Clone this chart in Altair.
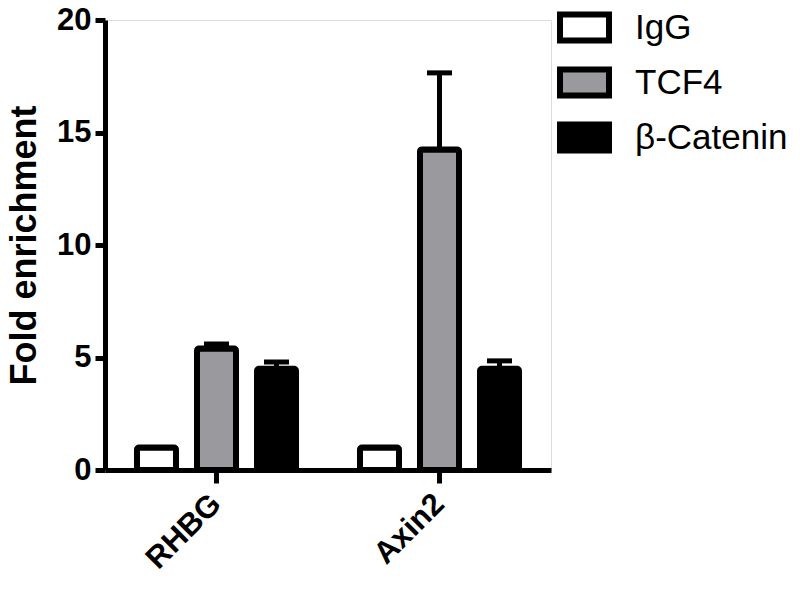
import altair as alt
import pandas as pd

genes = ["RHBG", "Axin2"]
groups = ["IgG", "TCF4", "β-Catenin"]
igg = [1.0, 1.0]
tcf4 = [5.4, 14.25]
bcat = [4.5, 4.5]
igg_err = [0.0, 0.0]
tcf4_err = [0.2, 3.4]
bcat_err = [0.3, 0.35]
fills = ["#ffffff", "#9a9a9e", "#000000"]
y_ticks = [0, 5, 10, 15, 20]

rows = []
for series, vals, errs in zip(groups, [igg, tcf4, bcat], [igg_err, tcf4_err, bcat_err]):
    for g, v, e in zip(genes, vals, errs):
        rows.append({"gene": g, "group": series, "value": v, "top": v + e, "err": e})
df = pd.DataFrame(rows)

FONT = "Liberation Sans"

x = alt.X(
    "gene:N",
    sort=genes,
    scale=alt.Scale(paddingInner=0, paddingOuter=0),
    axis=alt.Axis(
        title=None,
        labelAngle=-45,
        labelAlign="right",
        labelBaseline="middle",
        labelFontSize=31,
        labelFontWeight="bold",
        labelFont=FONT,
        labelColor="black",
        tickSize=13,
        tickWidth=5,
        tickColor="black",
        domainWidth=5,
        domainColor="black",
        labelPadding=16,
    ),
)
xo = alt.XOffset(
    "group:N", sort=groups, scale=alt.Scale(paddingInner=0.35, paddingOuter=0.533)
)
y = alt.Y(
    "value:Q",
    scale=alt.Scale(domain=[0, 20], nice=False),
    axis=alt.Axis(
        values=y_ticks,
        title="Fold enrichment",
        titleFontSize=36,
        titleFontWeight="bold",
        titleFont=FONT,
        titleColor="black",
        titlePadding=13,
        labelFontSize=31,
        labelFontWeight="bold",
        labelFont=FONT,
        labelColor="black",
        labelPadding=4,
        tickSize=10,
        tickWidth=5,
        tickColor="black",
        domainWidth=5,
        domainColor="black",
        grid=False,
    ),
)

err_df = df[df["err"] > 0]

stems = alt.Chart(err_df).mark_rule(strokeWidth=5, color="black").encode(
    x=x, xOffset=xo, y=y, y2="top:Q"
)
caps = alt.Chart(err_df).mark_tick(color="black", thickness=5, size=25, opacity=1).encode(
    x=x, xOffset=xo, y=alt.Y("top:Q")
)
bars = alt.Chart(df).mark_bar(
    stroke="black", strokeWidth=6, cornerRadius=2, strokeJoin="round", opacity=1
).encode(
    x=x,
    xOffset=xo,
    y=y,
    fill=alt.Fill(
        "group:N",
        sort=groups,
        scale=alt.Scale(domain=groups, range=fills),
        legend=alt.Legend(
            title=None,
            orient="none",
            legendX=452,
            legendY=-20,
            padding=0,
            symbolType="M-1,-0.53H1V0.53H-1Z",
            symbolSize=2401,
            symbolStrokeWidth=6,
            symbolStrokeColor="black",
            symbolOpacity=1,
            labelFontSize=35,
            labelFont=FONT,
            labelColor="black",
            labelOffset=23,
            rowPadding=2,
            labelLimit=400,
        ),
    ),
)

chart = (
    alt.layer(stems, caps, bars)
    .properties(
        width=446,
        height=450,
        autosize=alt.AutoSizeParams(type="none"),
        padding={"left": 97, "top": 12, "right": 239, "bottom": 106},
    )
    .configure_view(stroke=None)
    .configure(background="white")
)

chart.save("out.html", embed_options={"renderer": "svg", "actions": False})
